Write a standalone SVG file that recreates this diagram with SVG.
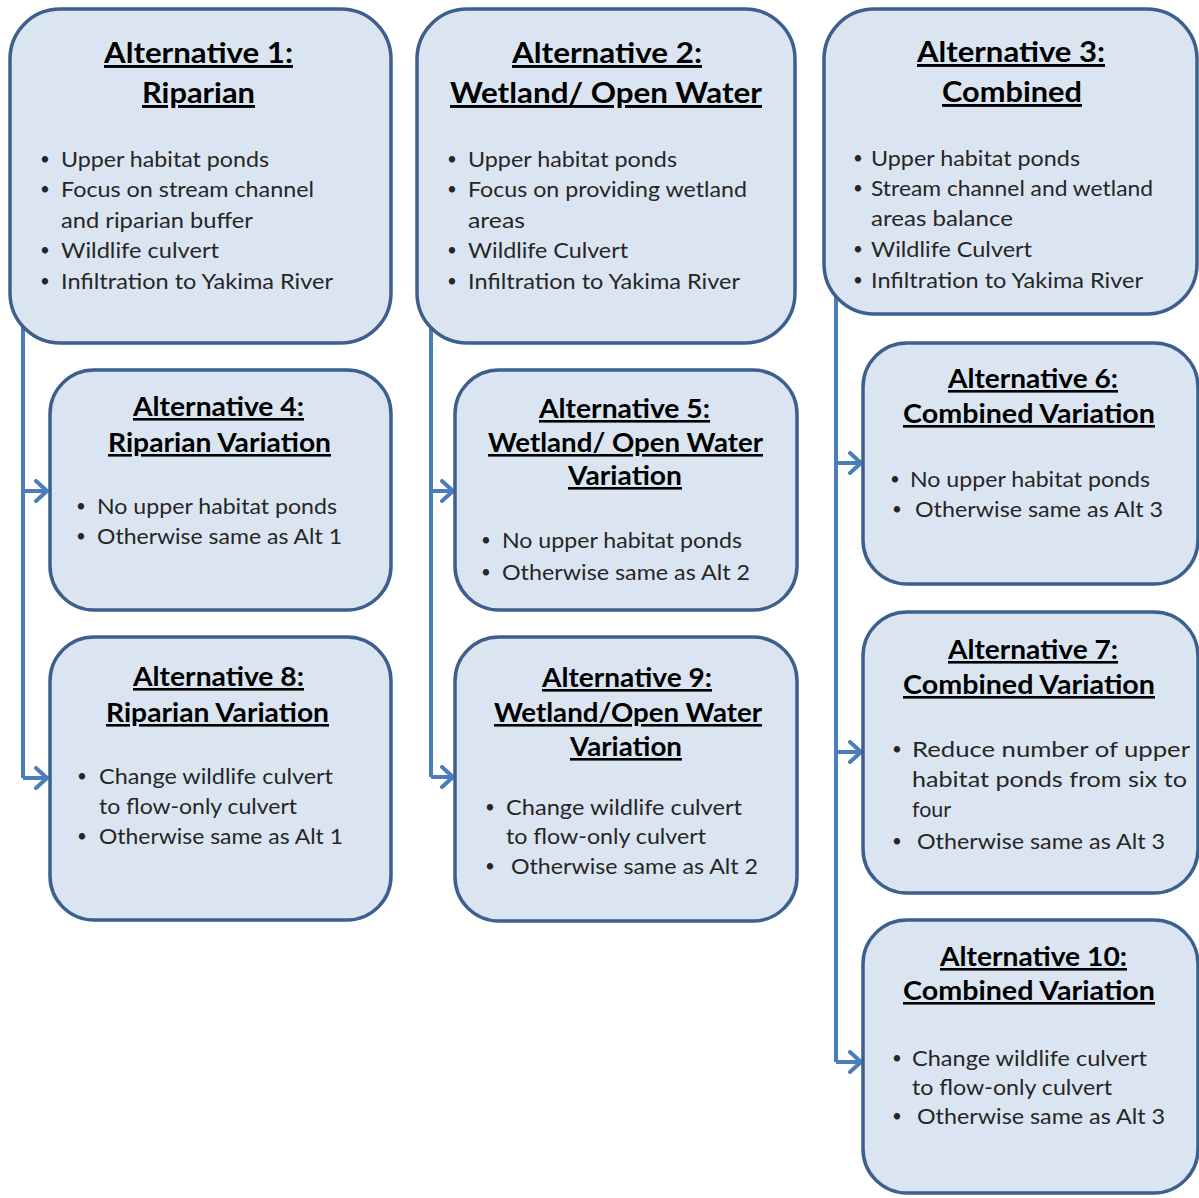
<svg xmlns="http://www.w3.org/2000/svg" width="1199" height="1198" viewBox="0 0 1199 1198">
<style>
.box{fill:#dbe5f1;stroke:#3d5f8e;stroke-width:3.5}
.con{fill:none;stroke:#4a7ebb;stroke-width:4}
.t1{font-family:Lato,"Liberation Sans",sans-serif;font-weight:bold;font-size:29px;fill:#000;text-decoration:underline}
.t2{font-family:Lato,"Liberation Sans",sans-serif;font-weight:bold;font-size:26px;fill:#000;text-decoration:underline}
.b{font-family:Lato,"Liberation Sans",sans-serif;font-size:22px;fill:#262626}
.bu{font-family:Lato,"Liberation Sans",sans-serif;font-size:17px;fill:#262626;text-anchor:middle}
</style>
<defs>
<marker id="arr" markerUnits="userSpaceOnUse" viewBox="0 0 16 24" markerWidth="16" markerHeight="24" refX="13" refY="12" orient="auto">
<path d="M2,2 L13,12 L2,22" fill="none" stroke="#4a7ebb" stroke-width="4" stroke-linecap="round" stroke-linejoin="round"/>
</marker>
</defs>
<rect width="1199" height="1198" fill="#ffffff"/>
<g id="connectors">
<path class="con" d="M23,300 V778"/>
<path class="con" d="M23,491 H47" marker-end="url(#arr)"/>
<path class="con" d="M23,778 H47" marker-end="url(#arr)"/>
<path class="con" d="M431,300 V777"/>
<path class="con" d="M431,491 H453" marker-end="url(#arr)"/>
<path class="con" d="M431,777 H453" marker-end="url(#arr)"/>
<path class="con" d="M836,280 V1062"/>
<path class="con" d="M836,463 H861" marker-end="url(#arr)"/>
<path class="con" d="M836,752 H861" marker-end="url(#arr)"/>
<path class="con" d="M836,1062 H861" marker-end="url(#arr)"/>
</g>
<g id="alt1">
<rect class="box" x="10" y="9" width="381" height="334" rx="50"/>
<text class="t1" x="104" y="63" textLength="189" lengthAdjust="spacingAndGlyphs">Alternative 1:</text>
<text class="t1" x="142" y="103" textLength="113" lengthAdjust="spacingAndGlyphs">Riparian</text>
<text class="bu" x="45" y="165">•</text>
<text class="bu" x="45" y="195">•</text>
<text class="bu" x="45" y="256">•</text>
<text class="bu" x="45" y="287">•</text>
<text class="b" x="61" y="167" textLength="208" lengthAdjust="spacingAndGlyphs">Upper habitat ponds</text>
<text class="b" x="61" y="197" textLength="253" lengthAdjust="spacingAndGlyphs">Focus on stream channel</text>
<text class="b" x="61" y="228" textLength="192" lengthAdjust="spacingAndGlyphs">and riparian buffer</text>
<text class="b" x="61" y="258" textLength="158" lengthAdjust="spacingAndGlyphs">Wildlife culvert</text>
<text class="b" x="61" y="289" textLength="272" lengthAdjust="spacingAndGlyphs">Infiltration to Yakima River</text>
</g>
<g id="alt2">
<rect class="box" x="417" y="9" width="378" height="334" rx="50"/>
<text class="t1" x="512" y="63" textLength="190" lengthAdjust="spacingAndGlyphs">Alternative 2:</text>
<text class="t1" x="450" y="103" textLength="312" lengthAdjust="spacingAndGlyphs">Wetland/ Open Water</text>
<text class="bu" x="452" y="165">•</text>
<text class="bu" x="452" y="195">•</text>
<text class="bu" x="452" y="256">•</text>
<text class="bu" x="452" y="287">•</text>
<text class="b" x="468" y="167" textLength="209" lengthAdjust="spacingAndGlyphs">Upper habitat ponds</text>
<text class="b" x="468" y="197" textLength="279" lengthAdjust="spacingAndGlyphs">Focus on providing wetland</text>
<text class="b" x="468" y="228" textLength="57" lengthAdjust="spacingAndGlyphs">areas</text>
<text class="b" x="468" y="258" textLength="160" lengthAdjust="spacingAndGlyphs">Wildlife Culvert</text>
<text class="b" x="468" y="289" textLength="272" lengthAdjust="spacingAndGlyphs">Infiltration to Yakima River</text>
</g>
<g id="alt3">
<rect class="box" x="824" y="9" width="373" height="305" rx="50"/>
<text class="t1" x="917" y="62" textLength="188" lengthAdjust="spacingAndGlyphs">Alternative 3:</text>
<text class="t1" x="942" y="102" textLength="140" lengthAdjust="spacingAndGlyphs">Combined</text>
<text class="bu" x="858" y="164">•</text>
<text class="bu" x="858" y="194">•</text>
<text class="bu" x="858" y="255">•</text>
<text class="bu" x="858" y="286">•</text>
<text class="b" x="871" y="166" textLength="209" lengthAdjust="spacingAndGlyphs">Upper habitat ponds</text>
<text class="b" x="871" y="196" textLength="282" lengthAdjust="spacingAndGlyphs">Stream channel and wetland</text>
<text class="b" x="871" y="226" textLength="142" lengthAdjust="spacingAndGlyphs">areas balance</text>
<text class="b" x="871" y="257" textLength="161" lengthAdjust="spacingAndGlyphs">Wildlife Culvert</text>
<text class="b" x="871" y="288" textLength="272" lengthAdjust="spacingAndGlyphs">Infiltration to Yakima River</text>
</g>
<g id="alt4">
<rect class="box" x="50" y="370" width="341" height="240" rx="44"/>
<text class="t2" x="133" y="416" textLength="171" lengthAdjust="spacingAndGlyphs">Alternative 4:</text>
<text class="t2" x="108" y="452" textLength="223" lengthAdjust="spacingAndGlyphs">Riparian Variation</text>
<text class="bu" x="81" y="512">•</text>
<text class="bu" x="81" y="542">•</text>
<text class="b" x="97" y="514" textLength="240" lengthAdjust="spacingAndGlyphs">No upper habitat ponds</text>
<text class="b" x="97" y="544" textLength="245" lengthAdjust="spacingAndGlyphs">Otherwise same as Alt 1</text>
</g>
<g id="alt5">
<rect class="box" x="455" y="370" width="342" height="240" rx="44"/>
<text class="t2" x="539" y="418" textLength="171" lengthAdjust="spacingAndGlyphs">Alternative 5:</text>
<text class="t2" x="488" y="452" textLength="275" lengthAdjust="spacingAndGlyphs">Wetland/ Open Water</text>
<text class="t2" x="568" y="485" textLength="114" lengthAdjust="spacingAndGlyphs">Variation</text>
<text class="bu" x="486" y="546">•</text>
<text class="bu" x="486" y="578">•</text>
<text class="b" x="502" y="548" textLength="240" lengthAdjust="spacingAndGlyphs">No upper habitat ponds</text>
<text class="b" x="502" y="580" textLength="248" lengthAdjust="spacingAndGlyphs">Otherwise same as Alt 2</text>
</g>
<g id="alt6">
<rect class="box" x="863" y="343" width="335" height="241" rx="44"/>
<text class="t2" x="948" y="388" textLength="170" lengthAdjust="spacingAndGlyphs">Alternative 6:</text>
<text class="t2" x="903" y="423" textLength="252" lengthAdjust="spacingAndGlyphs">Combined Variation</text>
<text class="bu" x="895" y="485">•</text>
<text class="bu" x="897" y="515">•</text>
<text class="b" x="910" y="487" textLength="240" lengthAdjust="spacingAndGlyphs">No upper habitat ponds</text>
<text class="b" x="915" y="517" textLength="248" lengthAdjust="spacingAndGlyphs">Otherwise same as Alt 3</text>
</g>
<g id="alt7">
<rect class="box" x="863" y="612" width="335" height="281" rx="44"/>
<text class="t2" x="948" y="659" textLength="170" lengthAdjust="spacingAndGlyphs">Alternative 7:</text>
<text class="t2" x="903" y="694" textLength="252" lengthAdjust="spacingAndGlyphs">Combined Variation</text>
<text class="bu" x="897" y="755">•</text>
<text class="bu" x="897" y="847">•</text>
<text class="b" x="912" y="757" textLength="278" lengthAdjust="spacingAndGlyphs">Reduce number of upper</text>
<text class="b" x="912" y="787" textLength="275" lengthAdjust="spacingAndGlyphs">habitat ponds from six to</text>
<text class="b" x="912" y="817" textLength="39" lengthAdjust="spacingAndGlyphs">four</text>
<text class="b" x="917" y="849" textLength="248" lengthAdjust="spacingAndGlyphs">Otherwise same as Alt 3</text>
</g>
<g id="alt8">
<rect class="box" x="50" y="637" width="341" height="283" rx="44"/>
<text class="t2" x="133" y="686" textLength="171" lengthAdjust="spacingAndGlyphs">Alternative 8:</text>
<text class="t2" x="106" y="722" textLength="223" lengthAdjust="spacingAndGlyphs">Riparian Variation</text>
<text class="bu" x="82" y="782">•</text>
<text class="bu" x="82" y="842">•</text>
<text class="b" x="99" y="784" textLength="234" lengthAdjust="spacingAndGlyphs">Change wildlife culvert</text>
<text class="b" x="99" y="814" textLength="198" lengthAdjust="spacingAndGlyphs">to flow-only culvert</text>
<text class="b" x="99" y="844" textLength="244" lengthAdjust="spacingAndGlyphs">Otherwise same as Alt 1</text>
</g>
<g id="alt9">
<rect class="box" x="455" y="637" width="342" height="284" rx="44"/>
<text class="t2" x="542" y="687" textLength="170" lengthAdjust="spacingAndGlyphs">Alternative 9:</text>
<text class="t2" x="494" y="722" textLength="268" lengthAdjust="spacingAndGlyphs">Wetland/Open Water</text>
<text class="t2" x="570" y="756" textLength="112" lengthAdjust="spacingAndGlyphs">Variation</text>
<text class="bu" x="490" y="813">•</text>
<text class="bu" x="490" y="872">•</text>
<text class="b" x="506" y="815" textLength="236" lengthAdjust="spacingAndGlyphs">Change wildlife culvert</text>
<text class="b" x="506" y="844" textLength="200" lengthAdjust="spacingAndGlyphs">to flow-only culvert</text>
<text class="b" x="511" y="874" textLength="247" lengthAdjust="spacingAndGlyphs">Otherwise same as Alt 2</text>
</g>
<g id="alt10">
<rect class="box" x="863" y="920" width="335" height="273" rx="44"/>
<text class="t2" x="940" y="966" textLength="187" lengthAdjust="spacingAndGlyphs">Alternative 10:</text>
<text class="t2" x="903" y="1000" textLength="252" lengthAdjust="spacingAndGlyphs">Combined Variation</text>
<text class="bu" x="897" y="1064">•</text>
<text class="bu" x="897" y="1122">•</text>
<text class="b" x="912" y="1066" textLength="235" lengthAdjust="spacingAndGlyphs">Change wildlife culvert</text>
<text class="b" x="912" y="1095" textLength="200" lengthAdjust="spacingAndGlyphs">to flow-only culvert</text>
<text class="b" x="917" y="1124" textLength="248" lengthAdjust="spacingAndGlyphs">Otherwise same as Alt 3</text>
</g>
</svg>
